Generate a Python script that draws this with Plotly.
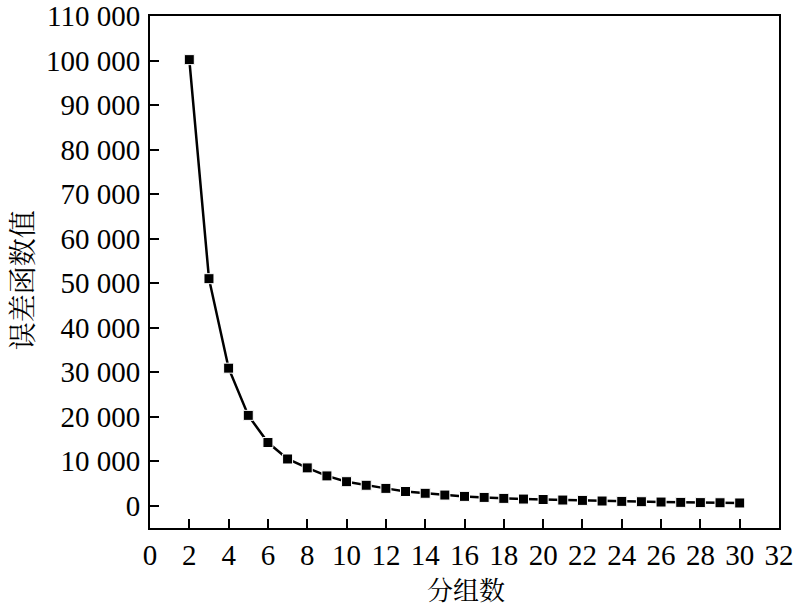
import plotly.graph_objects as go

group_counts = list(range(2, 31))
error_values = [100200, 51000, 30900, 20300, 14200, 10500, 8500, 6700, 5400,
                4600, 3900, 3200, 2800, 2400, 2100, 1870, 1650, 1500, 1400,
                1280, 1200, 1060, 980, 900, 830, 760, 700, 670, 620]

x_ticks = list(range(0, 33, 2))
y_ticks = list(range(0, 110001, 10000))
x_title = "分组数"
y_title = "误差函数值"

serif = "Liberation Serif, Times New Roman, serif"
cjk = "Noto Serif CJK SC, Noto Sans CJK SC, serif"

fig = go.Figure(go.Scatter(
    x=group_counts, y=error_values, mode="lines+markers",
    line=dict(color="black", width=2.5),
    marker=dict(symbol="square", size=10, color="black",
                line=dict(color="white", width=1)),
    showlegend=False,
))

axis_common = dict(
    showline=True, linecolor="black", linewidth=2, mirror=True,
    ticks="inside", ticklen=9, tickwidth=2, tickcolor="black",
    showgrid=False, zeroline=False, automargin=False,
    tickfont=dict(family=serif, size=29, color="black"),
)

fig.update_layout(
    width=794, height=607,
    margin=dict(l=150, r=15, t=16, b=79),
    paper_bgcolor="white", plot_bgcolor="white",
    separators=". ",
    xaxis=dict(range=[0, 32], tickvals=x_ticks, ticklabelstandoff=0, **axis_common),
    yaxis=dict(range=[-5000, 110000], tickvals=y_ticks, tickformat=",d",
               ticklabelstandoff=2, **axis_common),
    annotations=[
        dict(text=x_title, xref="paper", yref="paper", x=0.502, y=-0.118,
             xanchor="center", yanchor="middle", showarrow=False,
             font=dict(family=cjk, size=26, color="black")),
        dict(text=y_title, xref="paper", yref="paper", x=-0.205, y=0.484,
             xanchor="center", yanchor="middle", showarrow=False, textangle=-90,
             font=dict(family=cjk, size=28, color="black")),
    ],
)

fig.write_html("out.html", config={"displayModeBar": False},
               post_script="document.body.style.margin='0';document.body.style.overflow='hidden';")
